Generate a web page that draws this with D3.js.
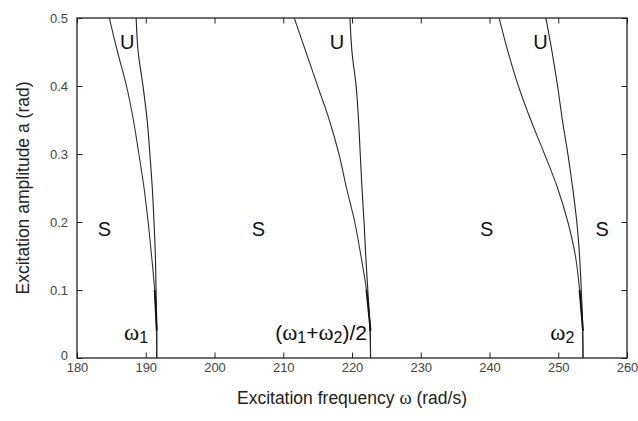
<!DOCTYPE html>
<html><head><meta charset="utf-8">
<script src="https://cdn.jsdelivr.net/npm/d3@7"></script>
<style>body{margin:0;background:#fff}svg{display:block}</style>
</head><body>
<svg id="c" width="638" height="421"></svg>
<script>
// ---- data ----
const amp = [0.5, 0.45, 0.4, 0.35, 0.3, 0.25, 0.2, 0.15, 0.1, 0.05, 0.0];
const tongue1Left  = [184.7, 185.9, 187.2, 188.2, 189.0, 189.75, 190.35, 190.85, 191.3, 191.55, 191.6];
const tongue1Right = [188.6, 188.9, 189.6, 190.2, 190.6, 190.95, 191.2, 191.4, 191.5, 191.6, 191.6];
const tongue2Left  = [211.6, 213.3, 215.0, 216.7, 218.1, 219.2, 220.4, 221.3, 222.1, 222.6, 222.7];
const tongue2Right = [219.7, 220.0, 220.6, 220.95, 221.2, 221.45, 221.75, 222.0, 222.3, 222.6, 222.7];
const tongue3Left  = [241.4, 242.7, 244.2, 246.0, 248.0, 249.9, 251.4, 252.5, 253.1, 253.5, 253.6];
const tongue3Right = [248.2, 249.1, 249.9, 250.6, 251.4, 252.1, 252.7, 253.1, 253.35, 253.55, 253.6];
const xTicks = [180, 190, 200, 210, 220, 230, 240, 250, 260];
const yTicks = [0, 0.1, 0.2, 0.3, 0.4, 0.5];
const regionLabels = [
  {t:"U", w:187.3, a:0.465}, {t:"U", w:217.8, a:0.465}, {t:"U", w:247.4, a:0.465},
  {t:"S", w:184.0, a:0.19}, {t:"S", w:206.4, a:0.19}, {t:"S", w:239.6, a:0.19}, {t:"S", w:256.4, a:0.19}
];
const freqLabels = [
  {parts:[["ω","w"],["1","s"]], w:188.6, a:0.038},
  {parts:[["(","t"],["ω","w"],["1","s"],["+","t"],["ω","w"],["2","s"],[")/2","t"]], w:215.5, a:0.038},
  {parts:[["ω","w"],["2","s"]], w:250.6, a:0.038}
];

// ---- layout ----
const svg = d3.select("#c");
const L = 77, R = 627, T = 18, B = 358;
const x = d3.scaleLinear().domain([180, 260]).range([L, R]);
const y = d3.scaleLinear().domain([0, 0.5]).range([B, T]);
const tk = 5.5;
const sans = "Arial, 'Liberation Sans', Helvetica, sans-serif";
const serif = "'Liberation Serif', 'Times New Roman', serif";

// axes
const gx = svg.append("g").attr("transform", `translate(0,${B})`)
  .call(d3.axisBottom(x).tickValues(xTicks).tickSizeInner(-tk).tickSizeOuter(0).tickPadding(5));
const gxt = svg.append("g").attr("transform", `translate(0,${T})`)
  .call(d3.axisTop(x).tickValues(xTicks).tickSizeInner(-tk).tickSizeOuter(0).tickFormat(""));
const gy = svg.append("g").attr("transform", `translate(${L},0)`)
  .call(d3.axisLeft(y).tickValues(yTicks).tickSizeInner(-tk).tickSizeOuter(0).tickPadding(9)
    .tickFormat(d => d === 0 ? "0" : d3.format(".1f")(d)));
const gyr = svg.append("g").attr("transform", `translate(${R},0)`)
  .call(d3.axisRight(y).tickValues(yTicks).tickSizeInner(-tk).tickSizeOuter(0).tickFormat(""));
[gx, gxt, gy, gyr].forEach(g => {
  g.select(".domain").remove();
  g.selectAll("line").attr("stroke", "#222").attr("stroke-width", 1);
  g.selectAll("text").attr("font-family", sans).attr("font-size", 13).attr("fill", "#444");
});
gy.selectAll("text").filter(d => d === 0).attr("dy", "0.1em");
svg.append("rect").attr("x", L).attr("y", T).attr("width", R - L).attr("height", B - T)
  .attr("fill", "none").attr("stroke", "#222").attr("stroke-width", 1.3);

// curves
const line = d3.line().x(d => x(d[0])).y(d => y(d[1])).curve(d3.curveCatmullRom.alpha(0.5));
const curves = [tongue1Left, tongue1Right, tongue2Left, tongue2Right, tongue3Left, tongue3Right];
svg.append("clipPath").attr("id", "pc").append("rect")
  .attr("x", L).attr("y", T).attr("width", R - L).attr("height", B - T);
const cg = svg.append("g").attr("clip-path", "url(#pc)");
curves.forEach((c, i) => {
  cg.append("path").datum(c.map((w, k) => [w, amp[k]])).attr("d", line)
    .attr("fill", "none").attr("stroke", i % 2 ? "#222" : "#333").attr("stroke-width", 1.1);
});
// thicker black near-resonance stems
const stem = d3.line().x(d => x(d[0])).y(d => y(d[1]));
[tongue1Left, tongue2Left, tongue3Left].forEach(c => {
  cg.append("path").datum([[c[8], amp[8]], [c[10], 0.04]]).attr("d", stem)
    .attr("fill", "none").attr("stroke", "#111").attr("stroke-width", 1.8);
});

// region labels
svg.append("g").selectAll("text").data(regionLabels).join("text")
  .attr("x", d => x(d.w)).attr("y", d => y(d.a))
  .attr("text-anchor", "middle").attr("dominant-baseline", "central")
  .attr("font-family", sans).attr("font-size", 20).attr("fill", "#111").text(d => d.t);

// frequency labels
freqLabels.forEach(f => {
  const t = svg.append("text").attr("x", x(f.w)).attr("y", y(f.a))
    .attr("text-anchor", "middle").attr("dominant-baseline", "central")
    .attr("font-size", 21).attr("fill", "#111");
  let prevSub = false;
  f.parts.forEach(([s, k]) => {
    const ts = t.append("tspan").text(s);
    if (k === "w") ts.attr("font-family", serif).attr("font-size", 23);
    else ts.attr("font-family", sans);
    if (k === "s") { ts.attr("font-size", 16).attr("dy", 5); prevSub = true; }
    else if (prevSub) { ts.attr("dy", -5); prevSub = false; }
  });
});

// axis titles
const xt = svg.append("text").attr("x", (L + R) / 2).attr("y", 398)
  .attr("text-anchor", "middle").attr("dominant-baseline", "central")
  .attr("font-family", sans).attr("font-size", 17.5).attr("fill", "#222");
xt.append("tspan").text("Excitation frequency ");
xt.append("tspan").attr("font-family", serif).attr("font-size", 18.5).text("ω");
xt.append("tspan").text(" (rad/s)");
svg.append("text").attr("transform", `translate(23,${(T + B) / 2}) rotate(-90)`)
  .attr("text-anchor", "middle").attr("dominant-baseline", "central")
  .attr("font-family", sans).attr("font-size", 17.5).attr("fill", "#222")
  .text("Excitation amplitude a (rad)");
</script>
</body></html>
